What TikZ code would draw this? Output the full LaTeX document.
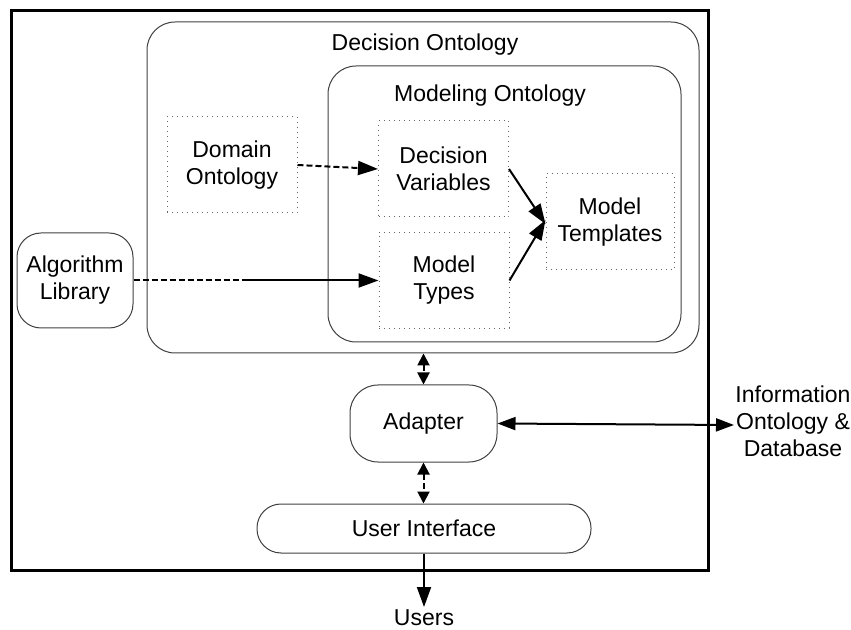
\documentclass[tikz,border=0pt]{standalone}
\usepackage{fontspec}
\setmainfont{Liberation Sans}
\usetikzlibrary{arrows.meta,positioning}

\tikzset{
  roundbox/.style={draw=black!75, line width=0.5pt, rounded corners=#1, align=center},
  dotbox/.style={draw=black!60, dotted, line width=0.5pt, minimum width=65pt, minimum height=48pt, align=center},
  conn/.style={line width=1pt, -{Triangle[length=10pt,width=7pt]}},
  bothconn/.style={line width=1pt, {Triangle[length=6pt,width=6pt]}-{Triangle[length=6pt,width=6pt]}},
  longconn/.style={line width=1pt, {Triangle[length=9pt,width=6.5pt]}-{Triangle[length=9pt,width=6.5pt]}},
  shortdash/.style={dash pattern=on 3pt off 1.5pt}
}

\begin{document}
\begin{tikzpicture}[x=0.5pt, y=-0.5pt, font=\fontsize{11.5}{13.5}\selectfont]
  \useasboundingbox (0,0) rectangle (851,630);
  \draw [line width=1.5pt] (11,11) rectangle (708,570);

  % ontology boxes
  \node (dec) [roundbox=14pt, minimum width=276pt, minimum height=165.5pt] at (423,187.5) {};
  \node (dectitle) at (425,45) {Decision Ontology};
  \node (mod) [roundbox=14pt, minimum width=176.5pt, minimum height=138pt] at (504.5,204) {};
  \node (modtitle) at (490,96) {Modeling Ontology};

  \node (domain) [dotbox] at (232,165) {Domain\\Ontology};
  \node (vars) [dotbox] at (443.5,169) {Decision\\Variables};
  \node (types) [dotbox] at (444,280.5) {Model\\Types};
  \node (templ) [dotbox, minimum width=64pt] at (610,222) {Model\\Templates};

  \node (alg) [roundbox=12pt, minimum width=58pt, minimum height=47.5pt] at (75,280.5) {Algorithm\\Library};
  \node (adapter) [roundbox=14pt, minimum width=73.5pt, minimum height=38.5pt] at (423.5,423.5) {Adapter};
  \node (ui) [roundbox=12pt, minimum width=167pt, minimum height=24.5pt] at (424,528.5) {User Interface};

  \node (info) [align=center] at (793,421) {Information\\Ontology \&\\Database};
  \node (users) [inner sep=0pt] at (424,618) {Users};
  \coordinate (algmid) at (245,280.5);
  \coordinate (infoend) at (734,425);
  \coordinate (usersend) at (424,607);

  % connectors
  \draw [conn, shortdash] (domain.east) -- (vars.west);
  \draw [line width=1pt, shortdash] (alg.east) -- (algmid);
  \draw [conn] (algmid) -- (types.west);
  \draw [conn] (vars.east) -- ([yshift=-1pt]templ.west);
  \draw [conn] (types.east) -- ([yshift=1pt]templ.west);
  \draw [bothconn, shortdash] (dec.south -| adapter.north) -- (adapter.north);
  \draw [bothconn, shortdash] (adapter.south) -- (ui.north -| adapter.south);
  \draw [longconn] (adapter.east) -- (infoend);
  \draw [conn] (ui.south) -- (usersend);
\end{tikzpicture}
\end{document}
